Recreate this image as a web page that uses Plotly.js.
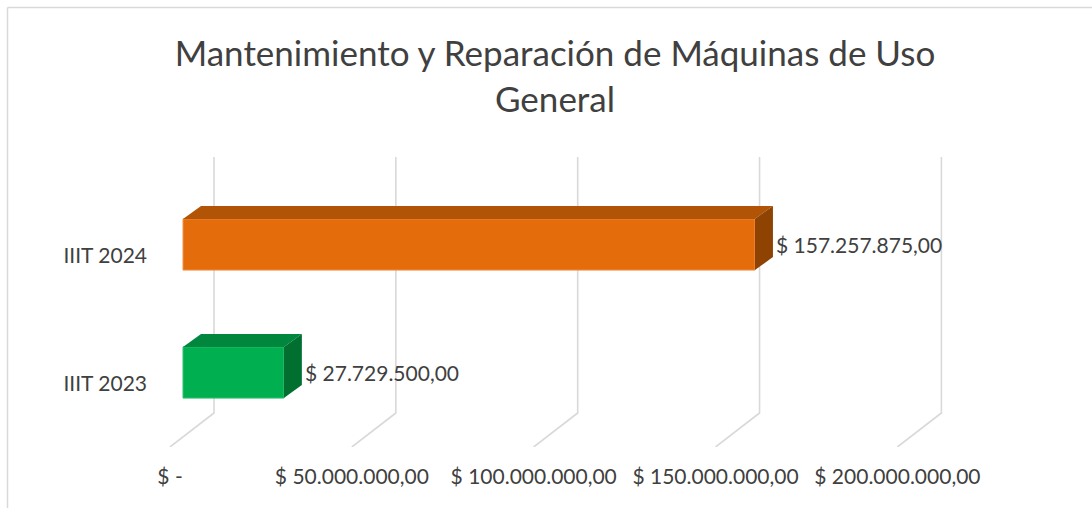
<!DOCTYPE html>
<html>
<head>
<meta charset="utf-8">
<script src="https://cdn.plot.ly/plotly-3.0.1.min.js"></script>
<style>
  html, body { margin: 0; padding: 0; background: #fff; }
  #chart { width: 1092px; height: 508px; }
</style>
</head>
<body>
<div id="chart"></div>
<script>
// ---- data ----
const categories = ['IIIT 2023', 'IIIT 2024'];
const values = [27729500, 157257875];
const tickValues = [0, 50000000, 100000000, 150000000, 200000000];
const titleText = 'Mantenimiento y Reparación de Máquinas de Uso<br>General';

// ---- styles / geometry (pixels) ----
const frontColors = ['#00B050', '#E46C0A'];
const topColors = ['#00873D', '#B25405'];
const sideColors = ['#006F30', '#8E4303'];
const W = 1092, H = 508;
const L = 160, R = 1000, T = 140, B = 447;
const X0PX = 183, PXPERM = 3.637;           // front-plane mapping
const Y1PX = 244.5, Y0PX = 372.5;           // category centres
const PXPERCAT = Y0PX - Y1PX;
const barW = 0.4;
const DXPX = 18, DYPX = 13;                 // bar depth
const WALLOFF = 31, FLOORX = -13;           // grid offsets
const GRIDTOP = 157, WALLBOT = 413, FLOORBOT = 447;

const px2v = p => (p - X0PX) / PXPERM * 1e6;
const dpx2v = d => d / PXPERM * 1e6;
const py2c = p => (Y0PX - p) / PXPERCAT;
const dpy2c = d => d / PXPERCAT;

function fmt(v) {
  if (v === 0) return '$ -';
  const s = v.toFixed(2).split('.');
  return '$ ' + s[0].replace(/\B(?=(\d{3})+(?!\d))/g, '.') + ',' + s[1];
}

const traces = [];

// grid lines (back wall + floor) on the base axes, so they sit behind the bars
const gx = [], gy = [];
tickValues.forEach(t => {
  gx.push(t + dpx2v(WALLOFF), t + dpx2v(WALLOFF), t + dpx2v(FLOORX), null);
  gy.push(py2c(GRIDTOP), py2c(WALLBOT), py2c(FLOORBOT), null);
});
traces.push({type: 'scatter', mode: 'lines', x: gx, y: gy, xaxis: 'x', yaxis: 'y',
  line: {color: '#D9D9D9', width: 1.6}, hoverinfo: 'skip', showlegend: false});

// front faces
traces.push({type: 'bar', orientation: 'h', x: values, y: categories.map((c, i) => i),
  xaxis: 'x2', yaxis: 'y2', width: barW,
  marker: {color: frontColors, line: {color: ['#2FC070', '#F0934A'], width: 1}},
  hoverinfo: 'x', showlegend: false});

// 3D faces
const dx = dpx2v(DXPX), dy = dpy2c(DYPX);
values.forEach((v, i) => {
  const yt = i + barW / 2, yb = i - barW / 2;
  traces.push({type: 'scatter', mode: 'lines', fill: 'toself', xaxis: 'x2', yaxis: 'y2',
    x: [0, v, v + dx, dx, 0], y: [yt, yt, yt + dy, yt + dy, yt],
    fillcolor: topColors[i], line: {width: 0}, hoverinfo: 'skip', showlegend: false});
  traces.push({type: 'scatter', mode: 'lines', fill: 'toself', xaxis: 'x2', yaxis: 'y2',
    x: [v, v + dx, v + dx, v, v], y: [yb, yb + dy, yt + dy, yt, yb],
    fillcolor: sideColors[i], line: {width: 0}, hoverinfo: 'skip', showlegend: false});
});

const pxX = p => (p - L) / (R - L);
const pxY = p => 1 - (p - T) / (B - T);
const xRange = [px2v(L), px2v(R)];
const yRange = [py2c(B), py2c(T)];
const FONT = 'Lato, "Open Sans", sans-serif';

const layout = {
  width: W, height: H,
  margin: {l: L, r: W - R, t: T, b: H - B},
  paper_bgcolor: '#ffffff', plot_bgcolor: 'rgba(0,0,0,0)',
  font: {family: FONT, color: '#404040', size: 21},
  title: {text: titleText, x: 555 / W, xref: 'container', xanchor: 'center',
    y: 1 - 66 / H, yref: 'container', yanchor: 'middle',
    font: {size: 35, color: '#404040', family: FONT}},
  xaxis: {range: xRange, tickvals: tickValues, ticktext: tickValues.map(fmt),
    showgrid: false, zeroline: false, showline: false, ticks: '',
    ticklabelshift: FLOORX, ticklabelstandoff: 15, tickfont: {size: 21}, fixedrange: true},
  yaxis: {range: yRange, tickvals: categories.map((c, i) => i), ticktext: categories,
    showgrid: false, zeroline: false, showline: false, ticks: '',
    ticklabelshift: 11, ticklabelstandoff: 12, tickfont: {size: 21}, fixedrange: true},
  xaxis2: {range: xRange, overlaying: 'x', visible: false, fixedrange: true},
  yaxis2: {range: yRange, overlaying: 'y', visible: false, fixedrange: true},
  annotations: values.map((v, i) => ({x: v, y: i, xref: 'x2', yref: 'y2', text: fmt(v),
    showarrow: false, xanchor: 'left', yanchor: 'middle', xshift: DXPX + 1, yshift: 0,
    font: {size: 21, color: '#404040'}})),
  shapes: [
    {type: 'line', xref: 'paper', yref: 'paper', x0: pxX(7.5), x1: pxX(W + 5), y0: pxY(7.5), y1: pxY(7.5),
      line: {color: '#D9D9D9', width: 1.5}},
    {type: 'line', xref: 'paper', yref: 'paper', x0: pxX(7.5), x1: pxX(7.5), y0: pxY(7.5), y1: pxY(H + 5),
      line: {color: '#D9D9D9', width: 1.5}}
  ]
};

Plotly.newPlot('chart', traces, layout, {displayModeBar: false, staticPlot: true});
</script>
</body>
</html>
